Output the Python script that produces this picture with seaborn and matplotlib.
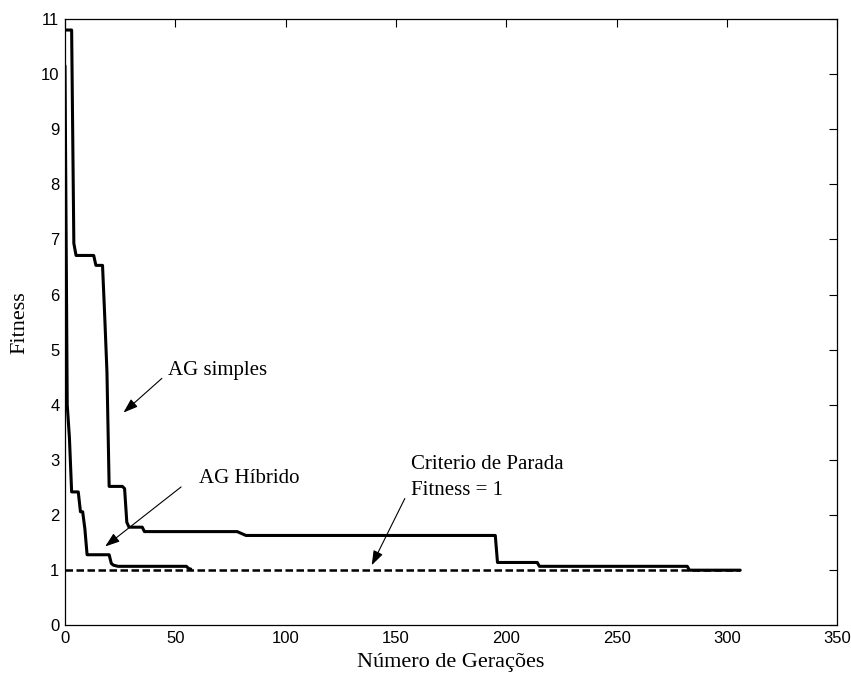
import seaborn as sns
import matplotlib.pyplot as plt
import pandas as pd

# AG simples
simples_gen = [0, 3, 4, 5, 13, 14, 17, 18, 19, 20, 26, 27, 28, 29, 35, 36,
               78, 82, 195, 196, 214, 215, 282, 283, 306]
simples_fit = [10.8, 10.8, 6.93, 6.71, 6.71, 6.53, 6.53, 5.6, 4.6, 2.52, 2.52, 2.48,
               1.87, 1.78, 1.78, 1.70, 1.70, 1.63, 1.63, 1.14, 1.14, 1.07, 1.07, 1.0, 1.0]

# AG Hibrido
hibrido_gen = [0, 1, 2, 3, 6, 7, 8, 9, 10, 20, 21, 22, 24, 55, 56, 57]
hibrido_fit = [10.15, 4.0, 3.4, 2.42, 2.42, 2.06, 2.06, 1.75, 1.28, 1.28, 1.12, 1.09,
               1.07, 1.07, 1.03, 1.02]

# stop criterion
criterio_gen = [0, 306]
criterio_fit = [1, 1]

sns.set_style("white")
plt.rcParams['font.family'] = ['Liberation Serif', 'DejaVu Serif']
plt.rcParams['text.color'] = 'black'
plt.rcParams['axes.labelcolor'] = 'black'

fig = plt.figure(figsize=(8.51, 6.76), dpi=100)
ax = fig.add_axes([0.0764, 0.075, 0.9075, 0.8969])

df_s = pd.DataFrame({"gen": simples_gen, "fit": simples_fit})
df_h = pd.DataFrame({"gen": hibrido_gen, "fit": hibrido_fit})
df_c = pd.DataFrame({"gen": criterio_gen, "fit": criterio_fit})

sns.lineplot(data=df_c, x="gen", y="fit", ax=ax, color="black", lw=1.8,
             dashes=False, sort=False)
ax.lines[-1].set_dashes((3.0, 1.4))
sns.lineplot(data=df_s, x="gen", y="fit", ax=ax, color="black", lw=2.2, sort=False)
sns.lineplot(data=df_h, x="gen", y="fit", ax=ax, color="black", lw=2.2, sort=False)

ax.set_xlim(0, 350)
ax.set_ylim(0, 11)
ax.set_xticks(range(0, 351, 50))
ax.set_yticks(range(0, 12))
ax.tick_params(direction="in", length=6, width=0.8, top=True, right=True,
               labelsize=12, pad=4, colors="black")
for lab in ax.get_xticklabels() + ax.get_yticklabels():
    lab.set_family("Liberation Sans")
for sp in ax.spines.values():
    sp.set_color("black")
    sp.set_linewidth(0.9)

ax.set_xlabel("Número de Gerações", fontsize=16, labelpad=5)
ax.set_ylabel("Fitness", fontsize=16, labelpad=8)

arrow = dict(arrowstyle="-|>,head_length=0.8,head_width=0.28", color="black",
             lw=0.8, mutation_scale=11, shrinkA=0, shrinkB=0)
ax.annotate("", xy=(26.5, 3.86), xytext=(43.9, 4.48), arrowprops=arrow)
ax.text(46.8, 4.63, "AG simples", fontsize=15, va="center", ha="left")
ax.annotate("", xy=(18.2, 1.43), xytext=(52.6, 2.51), arrowprops=arrow)
ax.text(60.9, 2.67, "AG Híbrido", fontsize=15, va="center", ha="left")
ax.annotate("", xy=(139, 1.09), xytext=(154, 2.30), arrowprops=arrow)
ax.text(157, 2.91, "Criterio de Parada", fontsize=15, va="center", ha="left")
ax.text(157, 2.45, "Fitness = 1", fontsize=15, va="center", ha="left")

fig.savefig("out.png", dpi=100, facecolor="white")
